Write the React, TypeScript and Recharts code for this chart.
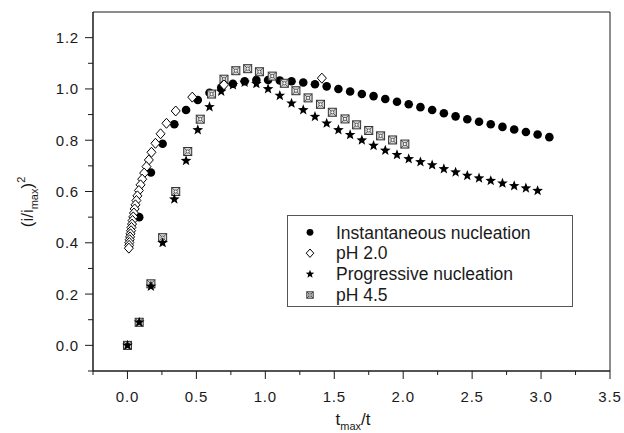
import React from 'react';
import { ScatterChart, Scatter, XAxis, YAxis, Legend, Label, ReferenceArea } from 'recharts';

// instantaneous nucleation (theory)
const instX = [0, 0.085, 0.17, 0.255, 0.34, 0.425, 0.51, 0.595, 0.68, 0.765, 0.85, 0.935, 1.02, 1.105, 1.19, 1.275, 1.36, 1.445, 1.53, 1.615, 1.7, 1.785, 1.87, 1.955, 2.04, 2.125, 2.21, 2.295, 2.38, 2.465, 2.55, 2.635, 2.72, 2.805, 2.89, 2.975, 3.06];
const instY = [0, 0.5, 0.674, 0.786, 0.862, 0.918, 0.957, 0.985, 1.005, 1.02, 1.03, 1.035, 1.035, 1.033, 1.03, 1.025, 1.018, 1.01, 1.0, 0.99, 0.98, 0.972, 0.961, 0.95, 0.94, 0.929, 0.918, 0.905, 0.893, 0.882, 0.872, 0.862, 0.852, 0.842, 0.832, 0.822, 0.812];

// progressive nucleation (theory)
const progX = [0, 0.085, 0.17, 0.255, 0.34, 0.425, 0.51, 0.595, 0.68, 0.765, 0.85, 0.935, 1.02, 1.105, 1.19, 1.275, 1.36, 1.445, 1.53, 1.615, 1.7, 1.785, 1.87, 1.955, 2.04, 2.125, 2.21, 2.295, 2.38, 2.465, 2.55, 2.635, 2.72, 2.805, 2.89, 2.975];
const progY = [0, 0.09, 0.23, 0.4, 0.57, 0.72, 0.84, 0.93, 0.99, 1.015, 1.025, 1.02, 1.0, 0.974, 0.944, 0.918, 0.892, 0.866, 0.84, 0.821, 0.8, 0.779, 0.76, 0.743, 0.727, 0.715, 0.703, 0.688, 0.675, 0.662, 0.652, 0.642, 0.632, 0.622, 0.613, 0.603];

// pH 2.0 (experiment)
const ph20X = [1.41, 0.7, 0.47, 0.35, 0.283, 0.24, 0.203, 0.174, 0.155, 0.138, 0.121, 0.107, 0.095, 0.083, 0.072, 0.065, 0.058, 0.052, 0.047, 0.042, 0.037, 0.033, 0.029, 0.026, 0.022, 0.019, 0.016, 0.014, 0.012, 0.01];
const ph20Y = [1.042, 1.016, 0.968, 0.914, 0.866, 0.825, 0.788, 0.753, 0.723, 0.697, 0.672, 0.648, 0.626, 0.604, 0.583, 0.565, 0.548, 0.532, 0.516, 0.501, 0.487, 0.473, 0.46, 0.447, 0.435, 0.423, 0.412, 0.401, 0.39, 0.379];

// pH 4.5 (experiment)
const ph45X = [0, 0.085, 0.17, 0.255, 0.35, 0.437, 0.528, 0.61, 0.7, 0.786, 0.872, 0.957, 1.05, 1.138, 1.222, 1.31, 1.4, 1.486, 1.578, 1.662, 1.75, 1.836, 1.923, 2.012];
const ph45Y = [0, 0.09, 0.24, 0.42, 0.6, 0.756, 0.882, 0.98, 1.038, 1.071, 1.079, 1.067, 1.05, 1.022, 0.993, 0.965, 0.94, 0.909, 0.883, 0.86, 0.838, 0.817, 0.801, 0.785];

const xMajor = [0, 0.5, 1, 1.5, 2, 2.5, 3, 3.5];
const xMinor = [-0.25, 0.25, 0.75, 1.25, 1.75, 2.25, 2.75, 3.25];
const yMajor = [0, 0.2, 0.4, 0.6, 0.8, 1.0, 1.2];
const yMinor = [-0.1, 0.1, 0.3, 0.5, 0.7, 0.9, 1.1];

const legendNames = ['Instantaneous nucleation', 'pH 2.0', 'Progressive nucleation', 'pH 4.5'];

const zip = (xs: number[], ys: number[]) => xs.map((x, i) => ({ x, y: ys[i] }));
const instData = zip(instX, instY);
const progData = zip(progX, progY);
const ph20Data = zip(ph20X, ph20Y);
const ph45Data = zip(ph45X, ph45Y);

const FONT = '"Liberation Sans", Arial, Helvetica, sans-serif';
const INK = '#1a1a1a';

const isIn = (arr: number[], v: number) => arr.some(a => Math.abs(a - v) < 1e-6);

const starPath = (cx: number, cy: number, ro: number, ri: number) => {
  let d = '';
  for (let k = 0; k < 10; k++) {
    const r = k % 2 === 0 ? ro : ri;
    const a = -Math.PI / 2 + (k * Math.PI) / 5;
    d += (k === 0 ? 'M' : 'L') + (cx + r * Math.cos(a)).toFixed(2) + ',' + (cy + r * Math.sin(a)).toFixed(2);
  }
  return d + 'Z';
};

const Dot = ({ cx, cy, r = 4.3 }: any) => <circle cx={cx} cy={cy} r={r} fill="#000" />;
const Diamond = ({ cx, cy, s = 5 }: any) => (
  <path d={`M${cx},${cy - s}L${cx + s * 0.9},${cy}L${cx},${cy + s}L${cx - s * 0.9},${cy}Z`} fill="#fff" stroke="#000" strokeWidth={1} />
);
const Star = ({ cx, cy, s = 5.6 }: any) => <path d={starPath(cx, cy, s, s * 0.42)} fill="#000" />;
const BoxX = ({ cx, cy, s = 4 }: any) => (
  <g>
    <rect x={cx - s} y={cy - s} width={s * 2} height={s * 2} fill="#d8d8d8" stroke="#333" strokeWidth={1} />
    <path d={`M${cx - s},${cy - s}L${cx + s},${cy + s}M${cx + s},${cy - s}L${cx - s},${cy + s}`} stroke="#333" strokeWidth={0.8} />
    <circle cx={cx} cy={cy} r={s * 0.4} fill="#fff" stroke="#333" strokeWidth={0.7} />
  </g>
);

const XTick = (props: any) => {
  const { x, y, payload } = props;
  const major = isIn(xMajor, payload.value);
  return (
    <g>
      <line x1={x} y1={y} x2={x} y2={y + (major ? 8 : 4)} stroke={INK} strokeWidth={1} />
      {major && (
        <text x={x} y={y + 31} textAnchor="middle" fontSize={15} letterSpacing={0.8} fill={INK} fontFamily={FONT}>
          {payload.value.toFixed(1)}
        </text>
      )}
    </g>
  );
};

const YTick = (props: any) => {
  const { x, y, payload } = props;
  const major = isIn(yMajor, payload.value);
  return (
    <g>
      <line x1={x} y1={y} x2={x - (major ? 8 : 5)} y2={y} stroke={INK} strokeWidth={1} />
      {major && (
        <text x={x - 14} y={y + 5.5} textAnchor="end" fontSize={15} letterSpacing={0.8} fill={INK} fontFamily={FONT}>
          {payload.value.toFixed(1)}
        </text>
      )}
    </g>
  );
};

const legendShapes = [
  (cx: number, cy: number) => <Dot cx={cx} cy={cy} r={3.4} />,
  (cx: number, cy: number) => <Diamond cx={cx} cy={cy} s={4.2} />,
  (cx: number, cy: number) => <Star cx={cx} cy={cy} s={4.4} />,
  (cx: number, cy: number) => <BoxX cx={cx} cy={cy} s={3.2} />,
];

const LegendBox = () => (
  <svg width={286} height={92} style={{ display: 'block' }}>
    <rect x={0.5} y={0.5} width={285} height={91} fill="#fff" stroke="#555" strokeWidth={1} />
    {legendNames.map((name, i) => {
      const cy = 17.3 + i * 20.9;
      return (
        <g key={name}>
          {legendShapes[i](23, cy)}
          <text x={49} y={cy + 6.2} fontSize={17.5} fill={INK} fontFamily={FONT}>{name}</text>
        </g>
      );
    })}
  </svg>
);

export default function App() {
  return (
    <div style={{ position: 'absolute', left: 0, top: 0, width: 624, height: 433, background: '#fff', fontFamily: FONT }}>
      <ScatterChart width={624} height={433} margin={{ top: 12, right: 14, bottom: 12, left: 0 }}>
        <XAxis
          type="number"
          dataKey="x"
          domain={[-0.25, 3.5]}
          ticks={[...xMinor, ...xMajor].sort((a, b) => a - b)}
          interval={0}
          height={50}
          tickSize={0}
          tickMargin={0}
          tickLine={false}
          axisLine={{ stroke: INK }}
          tick={<XTick />}
          allowDataOverflow
        >
          <Label
            content={() => (
              <text x={353} y={425} textAnchor="middle" fontSize={17} fill={INK} fontFamily={FONT}>
                t<tspan fontSize={11} dy={5}>max</tspan>
                <tspan dy={-5}>/t</tspan>
              </text>
            )}
          />
        </XAxis>
        <YAxis
          type="number"
          dataKey="y"
          domain={[-0.1, 1.3]}
          ticks={[...yMinor, ...yMajor].sort((a, b) => a - b)}
          interval={0}
          width={93}
          tickSize={0}
          tickMargin={0}
          tickLine={false}
          axisLine={{ stroke: INK }}
          tick={<YTick />}
          allowDataOverflow
        >
          <Label
            content={() => (
              <text x={33} y={202} textAnchor="middle" fontSize={17} fill={INK} fontFamily={FONT} transform="rotate(-90 33 202)">
                (i/i<tspan fontSize={11} dy={5}>max</tspan>
                <tspan dy={-5}>)</tspan>
                <tspan fontSize={11} dy={-8}>2</tspan>
              </text>
            )}
          />
        </YAxis>
        <ReferenceArea x1={-0.25} x2={3.5} y1={-0.1} y2={1.3} fill="none" stroke={INK} strokeWidth={1} />
        <Scatter data={instData} isAnimationActive={false} shape={(p: any) => <Dot cx={p.cx} cy={p.cy} />} />
        <Scatter data={ph45Data} isAnimationActive={false} shape={(p: any) => <BoxX cx={p.cx} cy={p.cy} />} />
        <Scatter data={progData} isAnimationActive={false} shape={(p: any) => <Star cx={p.cx} cy={p.cy} />} />
        <Scatter data={ph20Data} isAnimationActive={false} shape={(p: any) => <Diamond cx={p.cx} cy={p.cy} />} />
        <Legend
          layout="horizontal"
          verticalAlign="middle"
          content={() => <LegendBox />}
          wrapperStyle={{ left: 287, top: 215, width: 286, height: 92 }}
        />
      </ScatterChart>
    </div>
  );
}
